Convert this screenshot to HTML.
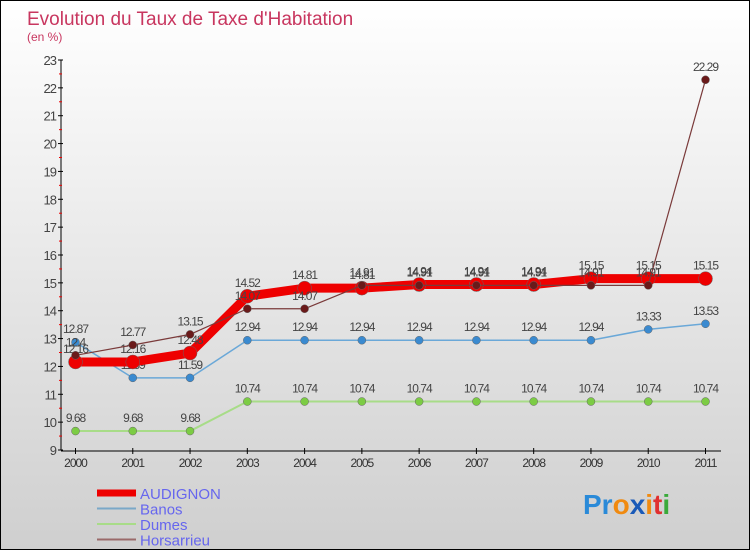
<!DOCTYPE html>
<html><head><meta charset="utf-8"><style>
body{margin:0}
#wrap{position:relative;width:748px;height:548px;border:1px solid #000;background:linear-gradient(#ffffff,#cfcfcf);font-family:"Liberation Sans",sans-serif;overflow:hidden}
</style></head><body>
<div id="wrap">
<svg id="chart" width="748" height="548"></svg>
</div>
<script>
const years=["2000","2001","2002","2003","2004","2005","2006","2007","2008","2009","2010","2011"];
const audignon=[12.16,12.16,12.48,14.52,14.81,14.81,14.94,14.94,14.94,15.15,15.15,15.15];
const banos=[12.87,11.59,11.59,12.94,12.94,12.94,12.94,12.94,12.94,12.94,13.33,13.53];
const dumes=[9.68,9.68,9.68,10.74,10.74,10.74,10.74,10.74,10.74,10.74,10.74,10.74];
const horsarrieu=[12.4,12.77,13.15,14.07,14.07,14.91,14.91,14.91,14.91,14.91,14.91,22.29];
const yTicks=[9,10,11,12,13,14,15,16,17,18,19,20,21,22,23];
const NS="http://www.w3.org/2000/svg";
const svg=document.getElementById('chart');
function xs(i){return 74.5+i*(704.5-74.5)/11;}
function ys(v){return 449-(v-9)*(449-59)/14;}
function el(t,a,p){const e=document.createElementNS(NS,t);for(const k in a)e.setAttribute(k,a[k]);(p||svg).appendChild(e);return e;}
function txt(x,y,s,a){const e=el('text',Object.assign({x:x,y:y},a));e.textContent=s;return e;}
let t=txt(26,24,"Evolution du Taux de Taxe d'Habitation",{fill:'#c8365f','font-size':19});

t=txt(26,40,"(en %)",{fill:'#c8365f','font-size':12});

// axes
let a=el('line',{x1:60,y1:59,x2:60,y2:449,stroke:'#000','stroke-width':1});

a=el('line',{x1:60,y1:450,x2:720,y2:450,stroke:'#000','stroke-width':1});

yTicks.forEach((v,i)=>{const y=ys(v);
 el('line',{x1:57,y1:y,x2:62,y2:y,stroke:'#000'});
 if(i<yTicks.length-1)el('line',{x1:58,y1:ys(v+0.5),x2:61,y2:ys(v+0.5),stroke:'#e00'});
 const l=txt(55,y+5,String(v),{fill:'#444','font-size':13,'text-anchor':'end','letter-spacing':-1});
 
});
years.forEach((yr,i)=>{const x=xs(i);
 el('line',{x1:x,y1:447,x2:x,y2:453,stroke:'#000'});
 const l=txt(x,466,yr,{fill:'#333','font-size':12,'text-anchor':'middle','letter-spacing':-1});
 
});
function series(data,name,color,w,r,dot,lab){
 const g=el('g',{});
 el('polyline',{points:data.map((v,i)=>xs(i)+','+ys(v)).join(' '),fill:'none',stroke:color,'stroke-width':w,'stroke-linejoin':'round'},g);
 data.forEach((v,i)=>{const c=el('circle',{cx:xs(i),cy:ys(v),r:r,fill:dot,stroke:'#666','stroke-width':0.5},g);
  
  const l=txt(xs(i),ys(v)-9,String(v),{fill:'#444','font-size':12,'text-anchor':'middle','letter-spacing':-1},g);
  });
}
series(dumes,'dumes','#a8dc88',2,4,'#7ccc44');
series(banos,'banos','#6aa8d8',1.5,4,'#3a8ad0');
series(audignon,'audignon','#ee0000',9,7,'#ee0000');
series(horsarrieu,'horsarrieu','#7a3a3a',1.2,4,'#6a1a1a');
// legend
const leg=[["AUDIGNON","#ee0000",7],["Banos","#7aa8c8",2],["Dumes","#a8dc88",2],["Horsarrieu","#9a6a6a",2]];
leg.forEach((d,i)=>{const y=492+i*15.5;
 const g=el('g',{});
 el('line',{x1:96,y1:y,x2:135,y2:y,stroke:d[1],'stroke-width':d[2]},g);
 txt(139,y+6,d[0],{fill:'#6666ee','font-size':15},g);
});
const p=txt(582,513,"",{'font-size':28,'font-weight':'bold'});

[["Pr","#2a8ad8"],["o","#f08a10"],["x","#1a5ab8"],["i","#f08a10"],["t","#e03030"],["i","#3aaa3a"]].forEach(s=>{const ts=el('tspan',{fill:s[1]},p);ts.textContent=s[0];});
</script>
</body></html>
